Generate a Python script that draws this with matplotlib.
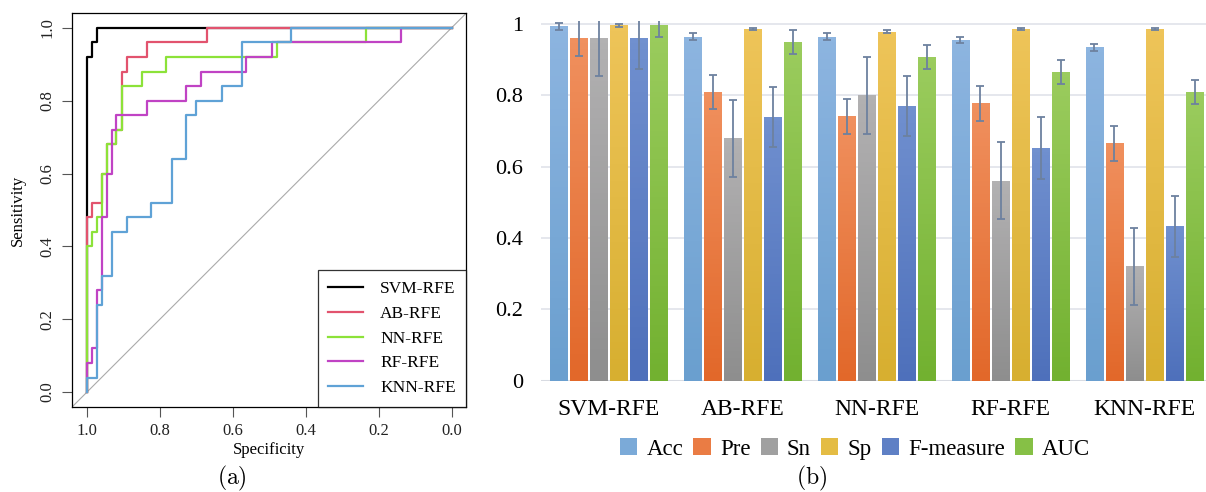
import numpy as np
import matplotlib
matplotlib.use("Agg")
import matplotlib.pyplot as plt
from matplotlib.colors import LinearSegmentedColormap
from matplotlib.patches import Patch

plt.rcParams["font.family"] = ["Liberation Serif", "DejaVu Serif"]
plt.rcParams["mathtext.fontset"] = "cm"

# ---- (a) ROC curves: step corners (specificity, sensitivity) ----
roc_names = ["SVM-RFE", "AB-RFE", "NN-RFE", "RF-RFE", "KNN-RFE"]
roc_colors = ["#000000", "#E2536E", "#8CE239", "#C043C4", "#5FA2D6"]
svm_spec = [1, 0.987, 0.973, 0]
svm_sens = [0, 0.92, 0.96, 1.0]
ab_spec = [1, 0.987, 0.96, 0.946, 0.919, 0.905, 0.891, 0.836, 0.672, 0]
ab_sens = [0, 0.48, 0.52, 0.60, 0.68, 0.72, 0.88, 0.92, 0.96, 1.0]
nn_spec = [1, 0.987, 0.973, 0.96, 0.946, 0.919, 0.905, 0.85, 0.782, 0.479, 0.234, 0]
nn_sens = [0, 0.40, 0.44, 0.48, 0.60, 0.68, 0.72, 0.84, 0.88, 0.92, 0.96, 1.0]
rf_spec = [1, 0.987, 0.973, 0.96, 0.946, 0.932, 0.919, 0.836, 0.727, 0.686, 0.5625, 0.492, 0.138, 0]
rf_sens = [0, 0.08, 0.12, 0.28, 0.48, 0.60, 0.72, 0.76, 0.80, 0.84, 0.88, 0.92, 0.96, 1.0]
knn_spec = [1, 0.973, 0.96, 0.932, 0.891, 0.823, 0.768, 0.727, 0.70, 0.629, 0.576, 0.439, 0]
knn_sens = [0, 0.04, 0.24, 0.32, 0.44, 0.48, 0.52, 0.64, 0.76, 0.80, 0.84, 0.96, 1.0]
roc_specs = [svm_spec, ab_spec, nn_spec, rf_spec, knn_spec]
roc_senss = [svm_sens, ab_sens, nn_sens, rf_sens, knn_sens]

# ---- (b) metrics per model ----
models = ["SVM-RFE", "AB-RFE", "NN-RFE", "RF-RFE", "KNN-RFE"]
metrics = ["Acc", "Pre", "Sn", "Sp", "F-measure", "AUC"]
acc = [0.994, 0.964, 0.964, 0.955, 0.935]
pre = [0.961, 0.809, 0.742, 0.778, 0.665]
sn = [0.961, 0.680, 0.801, 0.560, 0.321]
sp = [0.997, 0.986, 0.978, 0.986, 0.986]
fm = [0.961, 0.739, 0.770, 0.652, 0.433]
auc = [0.997, 0.950, 0.907, 0.865, 0.809]
acc_err = [0.010, 0.010, 0.010, 0.009, 0.010]
pre_err = [0.050, 0.048, 0.049, 0.049, 0.049]
sn_err = [0.108, 0.108, 0.108, 0.108, 0.108]
sp_err = [0.004, 0.004, 0.004, 0.004, 0.004]
fm_err = [0.087, 0.085, 0.085, 0.086, 0.086]
auc_err = [0.033, 0.033, 0.033, 0.033, 0.033]
values = [acc, pre, sn, sp, fm, auc]
errors = [acc_err, pre_err, sn_err, sp_err, fm_err, auc_err]
top_cols = ["#8DB5E0", "#F0905E", "#B2B1B2", "#EEC459", "#7090CF", "#9BCC5E"]
bot_cols = ["#6A9FCF", "#E2682A", "#8E8E8E", "#D7AF30", "#4E70BB", "#72B130"]
mid_cols = ["#7BAAD8", "#EA7C44", "#A0A0A0", "#E4BC44", "#5F80C5", "#86C046"]

fig = plt.figure(figsize=(12.06, 4.92), dpi=100)

# ================= (a) =================
ax = fig.add_axes([0.0600, 0.1734, 0.3265, 0.7996])
ax.axline((1, 0), (0, 1), color="#AAAAAA", lw=0.8, zorder=1)
for name, c, xs, ys in zip(roc_names, roc_colors, roc_specs, roc_senss):
    ax.plot(xs, ys, drawstyle="steps-pre", color=c, lw=1.6, label=name, zorder=2)
ax.set_xlim(1.04, -0.04)
ax.set_ylim(-0.04, 1.04)
ticks = [0.0, 0.2, 0.4, 0.6, 0.8, 1.0]
ax.set_xticks(ticks, [f"{t:.1f}" for t in ticks])
ax.set_yticks(ticks, [f"{t:.1f}" for t in ticks], rotation=90, va="center")
ax.tick_params(labelsize=12, length=7, color="#555555", labelcolor="#222222", pad=5)
for s in ax.spines.values():
    s.set_linewidth(0.9)
ax.set_xlabel("Specificity", fontsize=12, labelpad=2)
ax.set_ylabel("Sensitivity", fontsize=12, labelpad=10)
leg = ax.legend(loc="lower right", borderaxespad=0, fontsize=12.5, frameon=True,
                fancybox=False, edgecolor="black", handlelength=2.0,
                handletextpad=1.0, labelspacing=0.5, borderpad=0.6)
leg.get_frame().set_linewidth(0.9)
fig.text(232 / 1206, 1 - 478 / 492, r"$\mathrm{(a)}$", fontsize=17, ha="center", va="center")

# ================= (b) =================
bx = fig.add_axes([541 / 1206, 0.2266, 665 / 1206, 0.7317])
x = np.arange(len(models))
pitch, width = 0.1493, 0.129
for i, m in enumerate(metrics):
    pos = x + (i - 2.5) * pitch
    bars = bx.bar(pos, values[i], width=width, color="none", zorder=2)
    cmap = LinearSegmentedColormap.from_list(m, [bot_cols[i], top_cols[i]])
    for r in bars:
        x0, w, h = r.get_x(), r.get_width(), r.get_height()
        bx.imshow(np.linspace(0, 1, 64).reshape(-1, 1), extent=(x0, x0 + w, 0, h),
                  origin="lower", cmap=cmap, aspect="auto", zorder=2)
    bx.errorbar(pos, values[i], yerr=errors[i], fmt="none", ecolor="#6D819F",
                elinewidth=1.3, capsize=2.6, capthick=1.3, zorder=3)
bx.set_xlim(-0.504, 4.459)
bx.set_ylim(0, 1.01)
bx.set_yticks([0, 0.2, 0.4, 0.6, 0.8, 1.0], ["0", "0.2", "0.4", "0.6", "0.8", "1"])
bx.set_xticks(x, models)
bx.tick_params(axis="y", length=0, pad=13, labelsize=16)
bx.tick_params(axis="x", length=0, pad=13, labelsize=17)
bx.grid(axis="y", color="#E3E5EC", lw=1.3, zorder=0)
bx.set_axisbelow(True)
for s in bx.spines.values():
    s.set_visible(False)
bx.axhline(0, color="#D8DBE2", lw=2.2, zorder=1)
handles = [Patch(facecolor=c, edgecolor="none") for c in mid_cols]
fig.legend(handles, metrics, loc="center", bbox_to_anchor=(855 / 1206, 1 - 449 / 492),
           ncol=6, frameon=False, fontsize=16.5, handlelength=0.75, handleheight=0.75,
           handletextpad=0.4, columnspacing=0.45)
fig.text(812 / 1206, 1 - 478 / 492, r"$\mathrm{(b)}$", fontsize=17, ha="center", va="center")

fig.savefig("out.png", dpi=100)
